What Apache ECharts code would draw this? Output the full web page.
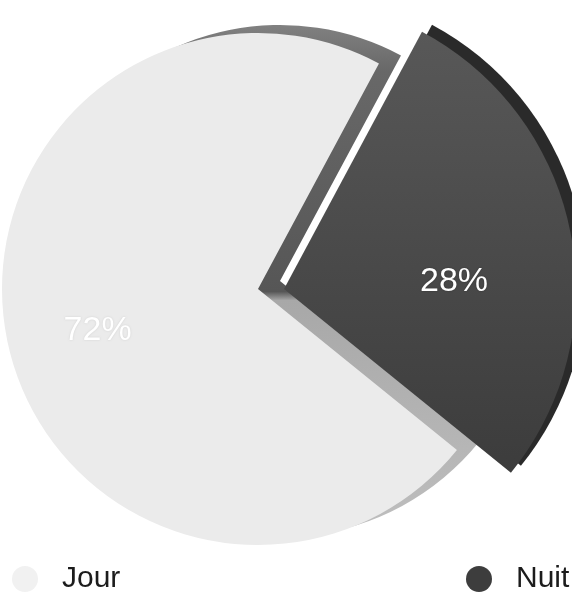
<!DOCTYPE html>
<html>
<head>
<meta charset="utf-8">
<style>
  html, body { margin: 0; padding: 0; background: #fff; }
  #chart { width: 572px; height: 595px; }
</style>
<script src="https://cdn.jsdelivr.net/npm/echarts@6/dist/echarts.min.js"></script>
</head>
<body>
<div id="chart"></div>
<script>
(()=>{
    "use strict";
    // data
    let categories = ['Jour', 'Nuit'];
    let values = [72, 28];
    let percentLabels = ['72%', '28%'];

    let legendColors = ['#f1f1f1', '#3d3d3d'];
    let faceColors = [
        '#ebebeb',
        {type:'linear', x:0, y:0, x2:0, y2:1, colorStops:[{offset:0, color:'#585858'}, {offset:1, color:'#3c3c3c'}]}
    ];
    let sideColors = [
        {type:'linear', global:true, x:0, y:0, x2:0, y2:595, colorStops:[
            {offset:0, color:'#8e8e8e'}, {offset:0.12, color:'#686868'}, {offset:0.49, color:'#565656'},
            {offset:0.505, color:'#a8a8a8'}, {offset:1, color:'#c4c4c4'}]},
        '#2a2a2a'
    ];

    let font = '"Liberation Sans", Arial, Helvetica, sans-serif';

    // one slice drawn, the other left transparent
    function sliceData(idx, colors, withLabel){
        return categories.map((name, i) => {
            let item = {name: name, value: values[i]};
            if (i === idx) {
                item.itemStyle = {color: colors[i]};
                item.label = withLabel ? {show:true} : {show:false};
            } else {
                item.itemStyle = {color:'rgba(0,0,0,0)'};
                item.label = {show:false};
            }
            return item;
        });
    }

    function pie(center, radius, data, extra){
        return Object.assign({
            type:'pie', center: center, radius: radius, startAngle: 321,
            avoidLabelOverlap:false, silent:true, animation:false,
            labelLine:{show:false},
            emphasis:{disabled:true},
            label:{show:false, position:'inside', color:'#fff', fontSize:34, fontFamily:font,
                   formatter: p => percentLabels[p.dataIndex],
                   textShadowColor:'rgba(0,0,0,0.35)', textShadowBlur:2},
            data: data
        }, extra || {});
    }

    let legendText = {fontSize:30, color:'#1c1c1c', fontFamily:font, padding:[0,0,0,19]};

    let _chart = echarts.init(document.getElementById('chart'), null, {renderer:'canvas'});
    let _chartOption = {
        backgroundColor:'#fff',
        animation:false,
        legend:[
            {left:7, top:559, icon:'circle', itemWidth:26, itemHeight:26, selectedMode:false,
             textStyle:legendText,
             data:[{name:categories[0], itemStyle:{color:legendColors[0]}}]},
            {left:461, top:559, icon:'circle', itemWidth:26, itemHeight:26, selectedMode:false,
             textStyle:legendText,
             data:[{name:categories[1], itemStyle:{color:legendColors[1]}}]}
        ],
        series:[
            pie([280, 281], 256, sliceData(0, sideColors, false)),
            pie([258, 289], 256, sliceData(0, faceColors, true), {
                label:{show:false, position:'inside', color:'#fff', fontSize:34, fontFamily:font,
                       formatter: p => percentLabels[p.dataIndex],
                       textShadowColor:'rgba(0,0,0,0.12)', textShadowBlur:2},
                labelLayout:{dx:-32, dy:16}
            }),
            pie([294, 282], 292, sliceData(1, sideColors, false)),
            pie([284, 289], 292, sliceData(1, faceColors, true), {labelLayout:{dx:24, dy:22}})
        ]
    };
    _chart.setOption(_chartOption);
})();
</script>
</body>
</html>
